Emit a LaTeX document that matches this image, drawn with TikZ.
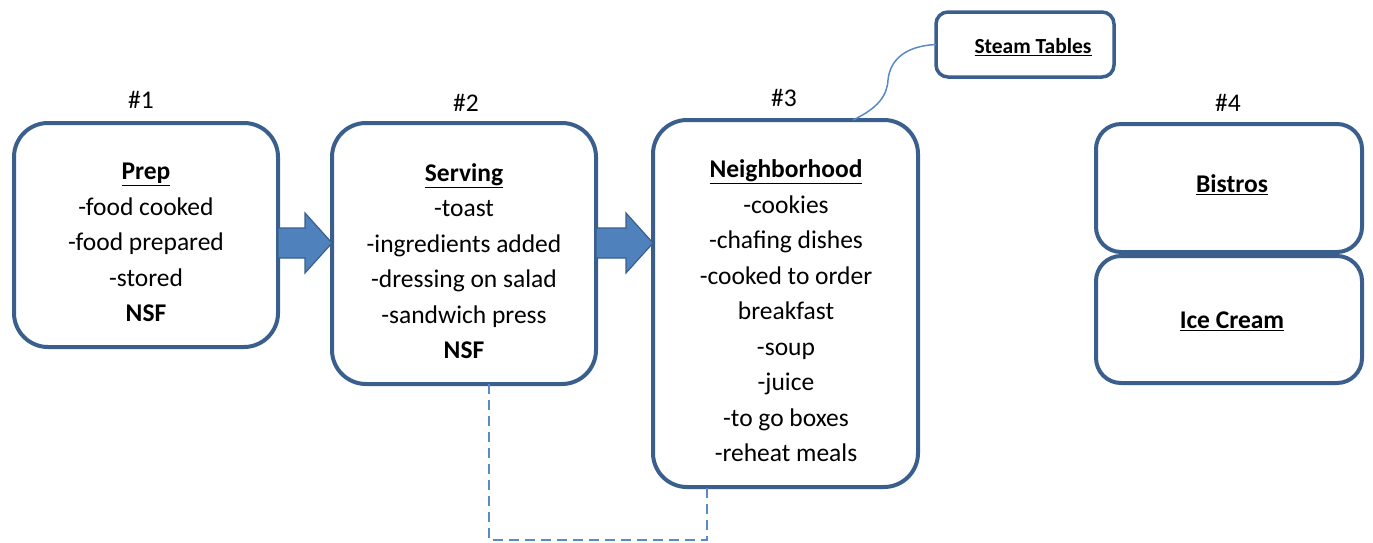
\documentclass[tikz,border=0pt]{standalone}
\usepackage{fontspec}
\setmainfont{Carlito}
\usetikzlibrary{positioning,calc}
\definecolor{boxblue}{HTML}{3A5F8C}
\definecolor{arrowblue}{HTML}{4F81BD}
\definecolor{linkblue}{HTML}{5A8AC6}
\newcommand{\stagehead}[1]{\underline{\textbf{#1}}}
\newcommand{\flowarrow}[2]{\path[blockarrow] (#1.east |- 0,228) -- ($(#2.west |- 0,228)+(-27,0)$) -- ++(0,-15) -- (#2.west |- 0,243) -- ($(#2.west |- 0,273)+(-27,0)$) -- ++(0,-15) -- (#1.east |- 0,258) -- cycle;}
\tikzset{
  stage/.style={draw=boxblue,line width=4pt,rounded corners=34pt,fill=white,minimum width=264pt,outer sep=0pt,inner sep=0pt},
  stagetext/.style={align=center,font=\fontsize{25.5}{35.5}\selectfont,inner sep=0pt},
  stagenum/.style={font=\fontsize{25.5}{28}\selectfont,inner sep=0pt},
  blockarrow/.style={fill=arrowblue,draw=boxblue,line width=1.2pt,line join=miter},
  linkdash/.style={draw=linkblue,line width=1.5pt,dash pattern=on 10pt off 6pt},
  calloutline/.style={draw=linkblue,line width=1.5pt}
}
\begin{document}
\begin{tikzpicture}[x=1pt,y=-1pt,line cap=butt]
  \useasboundingbox (0,0) rectangle (1373,542);
  % stations
  \node[stage,minimum height=224pt] (prep) at (146,235) {};
  \node[stage,minimum height=261pt] (serving) at (464,253.5) {};
  \node[stage,minimum height=367pt,minimum width=265pt] (neigh) at (785.5,303.5) {};
  \node[stage,minimum height=128pt,minimum width=266pt,rounded corners=25pt] (bistros) at (1229,188) {};
  \node[stage,minimum height=127pt,minimum width=266pt,rounded corners=25pt] (icecream) at (1229,319.5) {};
  \node[stage,minimum height=65pt,minimum width=178pt,rounded corners=12pt,line width=3.5pt] (steam) at (1025,44.5) {};
  % texts
  \node[stagetext] (preptxt) at (146,242.5) {\stagehead{Prep}\\-food cooked\\-food prepared\\-stored\\\textbf{NSF}};
  \node[stagetext] (servingtxt) at (464,261) {\stagehead{Serving}\\-toast\\-ingredients added\\-dressing on salad\\-sandwich press\\\textbf{NSF}};
  \node[stagetext] (neightxt) at (786,311) {\stagehead{Neighborhood}\\-cookies\\-chafing dishes\\-cooked to order\\breakfast\\-soup\\-juice\\-to go boxes\\-reheat meals};
  \node[stagetext] (bistrostxt) at (1232,185) {\stagehead{Bistros}};
  \node[stagetext] (icecreamtxt) at (1232,321) {\stagehead{Ice Cream}};
  \node[stagetext,font=\fontsize{21.5}{23}\selectfont] (steamtxt) at (1033,47) {\stagehead{Steam Tables}};
  % numbers
  \node[stagenum] (n1) at (141,100) {\#1};
  \node[stagenum] (n2) at (466,103) {\#2};
  \node[stagenum] (n3) at (784,98) {\#3};
  \node[stagenum] (n4) at (1228,103) {\#4};
  % flow
  \flowarrow{prep}{serving}
  \flowarrow{serving}{neigh}
  \draw[linkdash] ([xshift=25pt]serving.south) |- ([xshift=-78.5pt,yshift=-53pt]neigh.south) -- ([xshift=-78.5pt]neigh.south);
  \draw[calloutline] ([xshift=67.5pt]neigh.north) .. controls (878,108) and (887,96) .. (888,80) .. controls (890,60) and (905,46) .. (steam.west);
\end{tikzpicture}
\end{document}
